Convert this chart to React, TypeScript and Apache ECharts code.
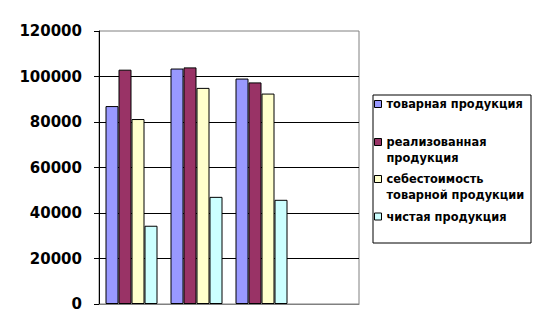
import React, { useEffect, useRef } from "react";
import * as echarts from "echarts";

const categories = ["1", "2", "3", "4"];
const seriesNames = [
  "товарная продукция",
  "реализованная продукция",
  "себестоимость товарной продукции",
  "чистая продукция",
];
const legendLines = [
  "товарная продукция",
  "\nреализованная\nпродукция",
  "\nсебестоимость\nтоварной продукции",
  "чистая продукция",
];
const tovarnaya = [87000, 103500, 99100, null];
const realizovannaya = [103000, 104000, 97400, null];
const sebestoimost = [81300, 95000, 92500, null];
const chistaya = [34400, 47100, 45800, null];
const colors = ["#9999FF", "#993366", "#FFFFCC", "#CCFFFF"];
const legendTops = [96, 118, 155, 208.5];

export default function App() {
  const ref = useRef<HTMLDivElement>(null);
  useEffect(() => {
    if (!ref.current) return;
    const chart = echarts.init(ref.current, null, { renderer: "svg" });
    const values = [tovarnaya, realizovannaya, sebestoimost, chistaya];
    chart.setOption({
      animation: false,
      backgroundColor: "#ffffff",
      grid: {
        left: 99,
        right: 176,
        top: 31,
        bottom: 31,
        show: true,
        borderColor: "#808080",
        borderWidth: 1,
        backgroundColor: "transparent",
      },
      xAxis: {
        type: "category",
        data: categories,
        axisLine: { show: true, lineStyle: { color: "#808080", width: 1 } },
        axisTick: { show: false },
        axisLabel: { show: false },
        splitLine: { show: false },
      },
      yAxis: {
        type: "value",
        min: 0,
        max: 120000,
        interval: 20000,
        axisLine: { show: true, lineStyle: { color: "#000000", width: 1 } },
        axisTick: { show: true, inside: false, length: 5, lineStyle: { color: "#000000" } },
        axisLabel: {
          margin: 17,
          color: "#000000",
          fontFamily: "DejaVu Sans",
          fontWeight: "bold",
          fontSize: 15,
          formatter: (v: number) => String(v),
        },
        splitLine: {
          show: true,
          showMinLine: false,
          showMaxLine: false,
          lineStyle: { color: "#000000", width: 1 },
        },
      },
      legend: seriesNames.map((name, i) => ({
        show: true,
        data: [name],
        orient: "vertical",
        left: 374,
        top: legendTops[i],
        padding: 0,
        itemWidth: 7,
        itemHeight: 7,
        icon: "rect",
        selectedMode: false,
        itemStyle: { borderColor: "#000000", borderWidth: 1 },
        formatter: () => legendLines[i],
        textStyle: {
          fontFamily: "DejaVu Sans",
          fontWeight: "bold",
          fontSize: 11.4,
          lineHeight: 16,
          color: "#000000",
        },
      })),
      graphic: [
        {
          type: "rect",
          left: 370.5,
          top: 92.5,
          shape: { width: 158, height: 148 },
          style: { fill: "none", stroke: "#000000", lineWidth: 1 },
          z: 0,
        },
      ],
      series: seriesNames.map((name, i) => ({
        name,
        type: "bar",
        data: values[i],
        barGap: "0%",
        barCategoryGap: "20%",
        itemStyle: { color: colors[i], borderColor: "#000000", borderWidth: 1 },
      })),
    });
    return () => chart.dispose();
  }, []);
  return (
    <div
      ref={ref}
      style={{ position: "fixed", left: 0, top: 0, width: 535, height: 335 }}
    />
  );
}
